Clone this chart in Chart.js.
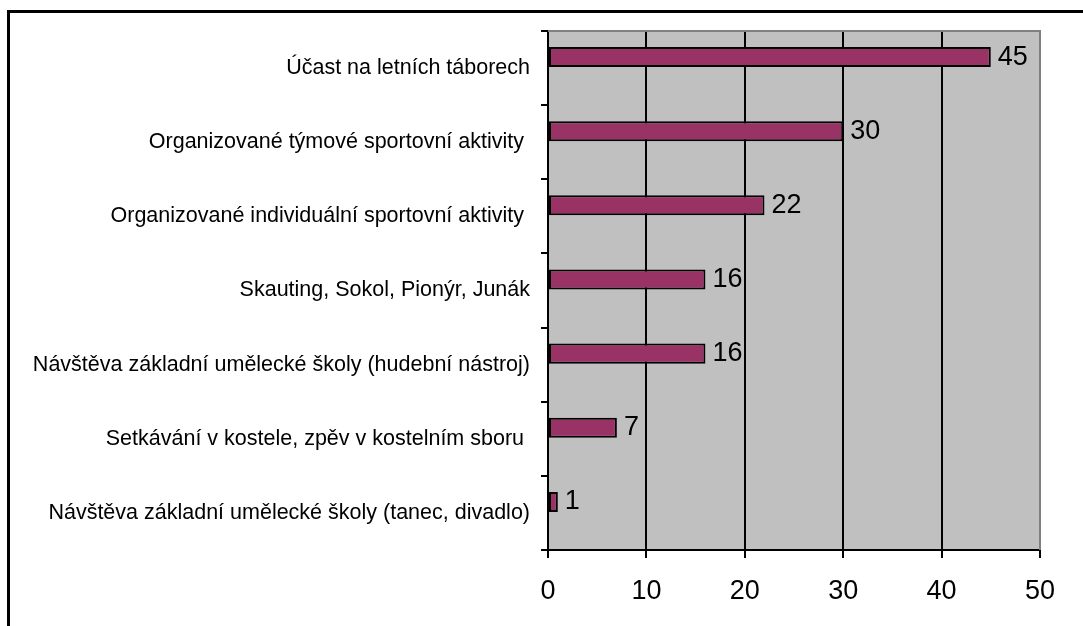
<!DOCTYPE html>
<html lang="cs">
<head>
<meta charset="UTF-8">
<title>Volnočasové aktivity</title>
<script src="https://cdn.jsdelivr.net/npm/chart.js"></script>
<style>
  html, body { margin: 0; padding: 0; background: #fff; overflow: hidden; }
  #frame {
    position: absolute; left: 7px; top: 10px;
    width: 1200px; height: 800px;
    border: 3px solid #000;
  }
  #activityChart { position: absolute; left: 0; top: 0; }
</style>
</head>
<body>
<div id="frame"></div>
<canvas id="activityChart" width="1083" height="626"></canvas>
<script>
  // activities (top to bottom) and number of answers
  const categories = [
    'Účast na letních táborech',
    'Organizované týmové sportovní aktivity ',
    'Organizované individuální sportovní aktivity ',
    'Skauting, Sokol, Pionýr, Junák',
    'Návštěva základní umělecké školy (hudební nástroj)',
    'Setkávání v kostele, zpěv v kostelním sboru ',
    'Návštěva základní umělecké školy (tanec, divadlo)'
  ];
  const counts = [45, 30, 22, 16, 16, 7, 1];
  const xTicks = [0, 10, 20, 30, 40, 50];

  const FONT = '"Liberation Sans", Arial, sans-serif';

  // grey plot background with a grey frame on top / right
  const plotArea = {
    id: 'plotArea',
    beforeDraw(chart) {
      const { ctx, chartArea: a } = chart;
      ctx.save();
      ctx.fillStyle = '#C0C0C0';
      ctx.fillRect(a.left, a.top, a.right - a.left, a.bottom - a.top);
      ctx.restore();
    },
    beforeDatasetsDraw(chart) {
      const { ctx, chartArea: a } = chart;
      ctx.save();
      ctx.strokeStyle = '#808080';
      ctx.lineWidth = 2;
      ctx.beginPath();
      ctx.moveTo(a.left, a.top);
      ctx.lineTo(a.right, a.top);
      ctx.lineTo(a.right, a.bottom);
      ctx.stroke();
      ctx.restore();
    }
  };

  // numbers right of each bar
  const valueLabels = {
    id: 'valueLabels',
    afterDatasetsDraw(chart) {
      const { ctx } = chart;
      const meta = chart.getDatasetMeta(0);
      ctx.save();
      ctx.font = '27px ' + FONT;
      ctx.fillStyle = '#000';
      ctx.textAlign = 'left';
      ctx.textBaseline = 'middle';
      meta.data.forEach((bar, i) => {
        ctx.fillText(String(counts[i]), bar.x + 7, bar.y);
      });
      ctx.restore();
    }
  };

  new Chart(document.getElementById('activityChart'), {
    type: 'bar',
    data: {
      labels: categories,
      datasets: [
        {
          data: counts,
          backgroundColor: '#993366',
          borderColor: '#000',
          borderWidth: 2,
          borderSkipped: false,
          categoryPercentage: 0.594,
          barPercentage: 0.91
        },
        {
          // second (empty) series keeps the bars in the upper half of each row
          data: [],
          backgroundColor: 'rgba(0,0,0,0)',
          borderWidth: 0,
          categoryPercentage: 0.594,
          barPercentage: 0.91
        }
      ]
    },
    options: {
      indexAxis: 'y',
      responsive: false,
      animation: false,
      layout: { padding: { top: 31, right: 43, left: 0, bottom: 0 } },
      plugins: {
        legend: { display: false },
        tooltip: { enabled: false }
      },
      scales: {
        x: {
          min: 0,
          max: 50,
          afterFit: s => { s.height = 76; },
          afterBuildTicks: s => { s.ticks = xTicks.map(v => ({ value: v })); },
          grid: {
            color: c => (c.tick && c.tick.value === 50 ? '#808080' : '#000'),
            tickColor: '#000',
            lineWidth: 2,
            tickLength: 8
          },
          border: { color: '#000', width: 2 },
          ticks: {
            color: '#000',
            padding: 17,
            font: { family: FONT, size: 27 }
          }
        },
        y: {
          afterFit: s => { s.width = 548; },
          grid: {
            offset: true,
            drawOnChartArea: false,
            color: '#000',
            lineWidth: 2,
            tickLength: 7
          },
          border: { color: '#000', width: 2 },
          ticks: {
            color: '#000',
            padding: 11,
            autoSkip: false,
            font: { family: FONT, size: 21.5 }
          }
        }
      }
    },
    plugins: [plotArea, valueLabels]
  });
</script>
</body>
</html>
